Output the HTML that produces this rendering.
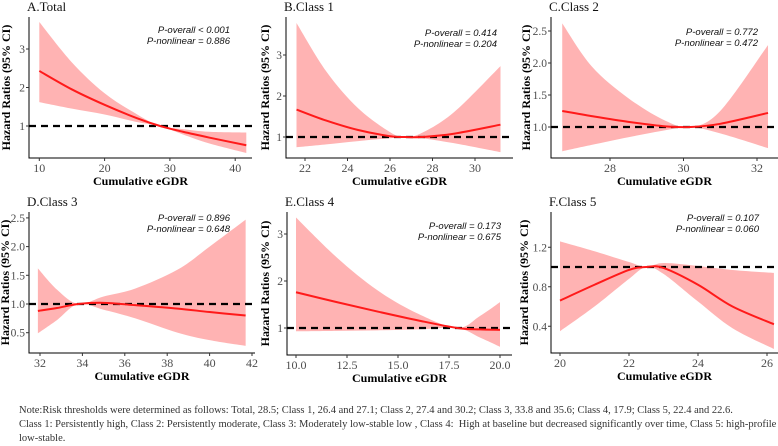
<!DOCTYPE html>
<html><head><meta charset="utf-8"><style>
html,body{margin:0;padding:0;background:#fff;overflow:hidden;}
svg{display:block;}
.note{position:absolute;left:19px;top:404px;width:800px;font-family:"Liberation Serif",serif;font-size:10.5px;line-height:14px;color:#333;white-space:nowrap;}
</style></head><body>
<svg id="chart" width="778" height="446"></svg>
<div class="note">Note:Risk thresholds were determined as follows: Total, 28.5; Class 1, 26.4 and 27.1; Class 2, 27.4 and 30.2; Class 3, 33.8 and 35.6; Class 4, 17.9; Class 5, 22.4 and 22.6.<br>Class 1: Persistently high, Class 2: Persistently moderate, Class 3: Moderately low-stable low , Class 4:&nbsp; High at baseline but decreased significantly over time, Class 5: high-profile<br>low-stable.</div>
<script>
// Panel A data
const aX=[10,15,20,25,28.5,32,36,41.7];
const aHR=[2.43,1.95,1.55,1.2,1.0,0.85,0.7,0.5];
const aLo=[1.62,1.45,1.3,1.1,1.0,0.78,0.55,0.3];
const aHi=[3.7,2.65,1.85,1.3,1.0,0.92,0.85,0.83];
const aXT=[10,20,30,40]; const aYT=[1,2,3];
// Panel B
const bX=[21.6,23,24.5,26,26.7,27.5,29,31.2];
const bHR=[1.67,1.4,1.17,1.02,1.0,1.0,1.08,1.3];
const bLo=[0.75,0.82,0.9,0.97,1.0,0.97,0.85,0.63];
const bHi=[3.78,2.6,1.7,1.12,1.0,1.1,1.6,2.73];
const bXT=[22,24,26,28,30]; const bYT=[1,2,3];
// Panel C
const cX=[26.7,27.5,28.5,29.5,30.2,31,32.3];
const cHR=[1.25,1.17,1.08,1.01,1.0,1.05,1.22];
const cLo=[0.62,0.72,0.84,0.95,1.0,0.9,0.67];
const cHi=[2.62,1.95,1.45,1.1,1.0,1.25,2.28];
const cXT=[28,30,32]; const cYT=[1.0,1.5,2.0,2.5];
// Panel D
const dX=[31.9,32.8,33.8,35,36.5,38.5,40,41.7];
const dHR=[0.88,0.93,1.0,1.02,0.98,0.92,0.86,0.8];
const dLo=[0.49,0.72,1.0,0.9,0.75,0.5,0.37,0.27];
const dHi=[1.62,1.25,1.0,1.13,1.27,1.6,2.0,2.47];
const dXT=[32,34,36,38,40,42]; const dYT=[0.5,1.0,1.5,2.0,2.5];
// Panel E
const eX=[10,12,14,16,17.9,19,20];
const eHR=[1.76,1.55,1.35,1.16,1.0,0.97,0.96];
const eLo=[0.93,0.94,0.95,0.97,1.0,0.8,0.6];
const eHi=[3.35,2.5,1.8,1.3,1.0,1.25,1.55];
const eXT=[10,12.5,15,17.5,20]; const eYT=[1,2,3];
// Panel F
const fX=[20,21,22,22.5,23,24,25,26.2];
const fHR=[0.66,0.82,0.97,1.0,0.99,0.82,0.6,0.42];
const fLo=[0.35,0.6,0.88,1.0,0.93,0.65,0.38,0.17];
const fHi=[1.26,1.16,1.05,1.0,1.04,1.01,0.97,0.94];
const fXT=[20,22,24,26]; const fYT=[0.4,0.8,1.2];

const panels=[
 {id:'a',title:'A.Total',x:aX,hr:aHR,lo:aLo,hi:aHi,xt:aXT,yt:aYT,xf:0,yf:0,
  L:29,R:252,T:17,B:158,x0:10,px0:39.3,kx:6.53,y0:1,py0:126,ky:38.5,ytx:6,
  p1:'P-overall < 0.001',p2:'P-nonlinear = 0.886',pr:230,pt:33},
 {id:'b',title:'B.Class 1',x:bX,hr:bHR,lo:bLo,hi:bHi,xt:bXT,yt:bYT,xf:0,yf:0,
  L:286,R:513,T:17,B:158,x0:22,px0:305,kx:21.25,y0:1,py0:137,ky:41,ytx:265,
  p1:'P-overall = 0.414',p2:'P-nonlinear = 0.204',pr:497,pt:36},
 {id:'c',title:'C.Class 2',x:cX,hr:cHR,lo:cLo,hi:cHi,xt:cXT,yt:cYT,xf:0,yf:1,
  L:551,R:778,T:17,B:158,x0:28,px0:610,kx:36.75,y0:1,py0:127,ky:64,ytx:526,
  p1:'P-overall = 0.772',p2:'P-nonlinear = 0.472',pr:758,pt:35},
 {id:'d',title:'D.Class 3',x:dX,hr:dHR,lo:dLo,hi:dHi,xt:dXT,yt:dYT,xf:0,yf:1,
  L:29,R:255,T:212,B:353,x0:32,px0:40,kx:21.2,y0:1,py0:304,ky:57.4,ytx:5,
  p1:'P-overall = 0.896',p2:'P-nonlinear = 0.648',pr:230,pt:221},
 {id:'e',title:'E.Class 4',x:eX,hr:eHR,lo:eLo,hi:eHi,xt:eXT,yt:eYT,xf:1,yf:0,
  L:287,R:512,T:212,B:355,x0:10,px0:296,kx:20.4,y0:1,py0:328,ky:47,ytx:265,
  p1:'P-overall = 0.173',p2:'P-nonlinear = 0.675',pr:501,pt:229},
 {id:'f',title:'F.Class 5',x:fX,hr:fHR,lo:fLo,hi:fHi,xt:fXT,yt:fYT,xf:0,yf:1,
  L:551,R:778,T:212,B:353,x0:20,px0:560,kx:34.5,y0:1,py0:267,ky:98.75,ytx:524,
  p1:'P-overall = 0.107',p2:'P-nonlinear = 0.060',pr:759,pt:221}
];
const NS='http://www.w3.org/2000/svg';
const svg=document.getElementById('chart');
function mk(tag,attrs,parent){const e=document.createElementNS(NS,tag);for(const k in attrs)e.setAttribute(k,attrs[k]);(parent||svg).appendChild(e);return e;}
function smooth(pts){
  let d='M'+pts[0][0].toFixed(2)+','+pts[0][1].toFixed(2);
  for(let i=0;i<pts.length-1;i++){
    const p0=pts[i-1]||pts[i],p1=pts[i],p2=pts[i+1],p3=pts[i+2]||p2;
    const c1=[p1[0]+(p2[0]-p0[0])/6,p1[1]+(p2[1]-p0[1])/6];
    const c2=[p2[0]-(p3[0]-p1[0])/6,p2[1]-(p3[1]-p1[1])/6];
    d+=' C'+c1[0].toFixed(2)+','+c1[1].toFixed(2)+' '+c2[0].toFixed(2)+','+c2[1].toFixed(2)+' '+p2[0].toFixed(2)+','+p2[1].toFixed(2);
  }
  return d;
}
panels.forEach(p=>{
  const sx=v=>p.px0+(v-p.x0)*p.kx;
  const sy=v=>p.py0-(v-p.y0)*p.ky;
  const g=mk('g',{});
  
  
  const t=mk('text',{x:p.L-2,y:p.T-6,'font-family':'Liberation Serif, serif','font-size':13,fill:'#111'},g);
  t.textContent=p.title;
  
  
  const up=p.x.map((v,i)=>[sx(v),sy(p.hi[i])]);
  const dn=p.x.map((v,i)=>[sx(v),sy(p.lo[i])]).reverse();
  let band=smooth(up)+' L'+dn[0][0]+','+dn[0][1]+smooth(dn).replace(/^M[^ C]+/,'')+' Z';
  const b=mk('path',{d:band,fill:'#ffb3b3',stroke:'none'},g);
  
  
  const rl=mk('line',{x1:p.L,x2:p.R,y1:sy(1),y2:sy(1),stroke:'#000','stroke-width':2.2,'stroke-dasharray':'7,5'},g);
  
  
  const hl=mk('path',{d:smooth(p.x.map((v,i)=>[sx(v),sy(p.hr[i])])),fill:'none',stroke:'#ff1a1a','stroke-width':2},g);
  
  
  const ax=mk('path',{d:`M${p.L},${p.T} V${p.B} H${p.R}`,fill:'none',stroke:'#000','stroke-width':1},g);
  
  
  p.xt.forEach(v=>{
    mk('line',{x1:sx(v),x2:sx(v),y1:p.B,y2:p.B+3,stroke:'#333'},g);
    const tx=mk('text',{x:sx(v),y:p.B+14,'text-anchor':'middle','font-family':'Liberation Serif, serif','font-size':12,fill:'#4d4d4d'},g);
    tx.textContent=p.xf?v.toFixed(1):String(v);
    
    
  });
  p.yt.forEach(v=>{
    mk('line',{x1:p.L-3,x2:p.L,y1:sy(v),y2:sy(v),stroke:'#333'},g);
    const ty=mk('text',{x:p.L-4,y:sy(v)+4,'text-anchor':'end','font-family':'Liberation Serif, serif','font-size':11.5,fill:'#4d4d4d'},g);
    ty.textContent=p.yf?v.toFixed(1):String(v);
    
    
  });
  const xt=mk('text',{x:(p.L+p.R)/2,y:p.B+27,'text-anchor':'middle','font-family':'Liberation Serif, serif','font-size':12,'font-weight':'bold',fill:'#000'},g);
  xt.textContent='Cumulative eGDR';
  
  
  const cy=(p.T+p.B)/2;
  const yt=mk('text',{x:p.ytx,y:cy,'text-anchor':'middle','font-family':'Liberation Serif, serif','font-size':12,'font-weight':'bold',fill:'#000',transform:`rotate(-90 ${p.ytx} ${cy})`,'dominant-baseline':'central'},g);
  yt.textContent='Hazard Ratios (95% CI)';
  
  
  [p.p1,p.p2].forEach((s,i)=>{
    const pt=mk('text',{x:p.pr,y:p.pt+i*11,'text-anchor':'end','font-family':'Liberation Sans, sans-serif','font-size':9.5,'font-style':'italic',fill:'#111'},g);
    pt.textContent=s;
    
    
  });
});
</script>
</body></html>
